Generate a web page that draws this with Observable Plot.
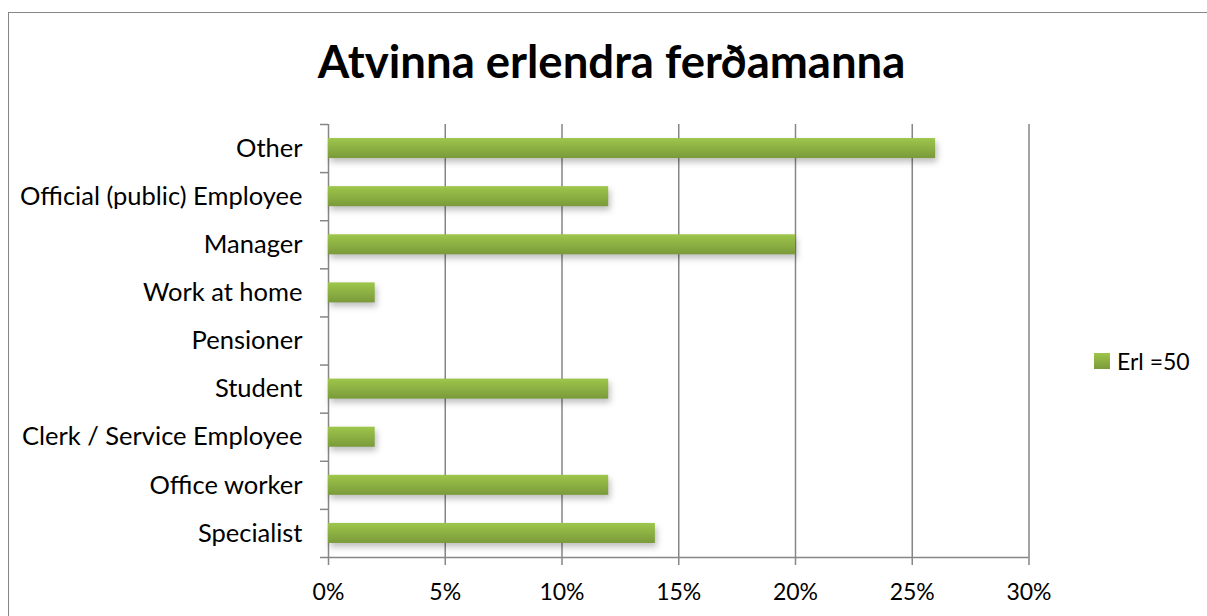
<!DOCTYPE html>
<html>
<head>
<meta charset="utf-8">
<script src="https://cdn.jsdelivr.net/npm/d3@7"></script>
<script src="https://cdn.jsdelivr.net/npm/@observablehq/plot@0.6"></script>
<style>
  html, body { margin: 0; padding: 0; background: #fff; overflow: hidden; }
  #frame { position: absolute; left: 8px; top: 12px; width: 1300px; height: 700px;
           border-left: 1.5px solid #868686; border-top: 1.5px solid #868686; }
  #title { position: absolute; left: 8px; top: 0; width: 1207px; height: 100px; text-align: center;
           font-family: Lato, sans-serif; font-weight: bold; font-size: 45.5px; line-height: 1;
           padding-top: 38px; box-sizing: border-box; color: #000; }
  #chart { position: absolute; left: 0; top: 100px; }
  #legend { position: absolute; left: 1094px; top: 347px; font-family: Lato, sans-serif; font-size: 23px;
            display: flex; align-items: center; color: #000; }
  #legend .sw { width: 16px; height: 16px; background: linear-gradient(#9dc54a, #7b9b3b); margin-right: 7px; }
</style>
</head>
<body>
<div id="frame"></div>
<div id="title">Atvinna erlendra ferðamanna</div>
<div id="chart"></div>
<div id="legend"><div class="sw"></div><span id="legtext"></span></div>
<script>
const categories = ["Other", "Official (public) Employee", "Manager", "Work at home", "Pensioner", "Student", "Clerk / Service Employee", "Office worker", "Specialist"];
const values = [26, 12, 20, 2, 0, 12, 2, 12, 14];
const xTicks = [0, 5, 10, 15, 20, 25, 30];
const seriesName = "Erl =50";

const n = categories.length;
const data = categories.map((c, i) => ({cat: c, value: values[i], pos: n - 1 - i}));
const edges = d3.range(n + 1);
const centers = data.map(d => d.pos + 0.5);
const labelOf = new Map(data.map(d => [d.pos + 0.5, d.cat]));
const inset = 0.292;
const gridColor = "#868686";

const plot = Plot.plot({
  width: 1207,
  height: 516,
  marginTop: 24,
  marginBottom: 59,
  marginLeft: 328,
  marginRight: 178.5,
  style: {fontFamily: "Lato, sans-serif", color: "#000", background: "transparent"},
  x: {domain: [0, 30], axis: null},
  y: {domain: [0, n], axis: null},
  marks: [
    Plot.ruleX(xTicks, {y1: 0, y2: n, stroke: gridColor, strokeWidth: 1.5}),
    Plot.axisX(xTicks, {tickSize: 8, tickPadding: 18, stroke: gridColor, strokeWidth: 1.5,
      tickFormat: d => d + "%", fontSize: 23, fill: "#000", label: null}),
    Plot.ruleY([0], {x1: 0, x2: 30, stroke: gridColor, strokeWidth: 1.5}),
    Plot.axisY(edges, {tickSize: 8, stroke: gridColor, strokeWidth: 1.5, tickFormat: () => "", label: null}),
    Plot.axisY(centers, {tickSize: 0, tickPadding: 26, tickFormat: d => labelOf.get(d), fontSize: 25.5, fill: "#000", label: null}),
    Plot.rectX(data.filter(d => d.value > 0), {
      x1: 0, x2: "value",
      y1: d => d.pos + inset, y2: d => d.pos + 1 - inset,
      fill: "url(#barGrad)", className: "bars"
    })
  ]
});

const svg = d3.select(plot);
const defs = svg.insert("defs", ":first-child");
const g = defs.append("linearGradient").attr("id", "barGrad").attr("x1", 0).attr("y1", 0).attr("x2", 0).attr("y2", 1);
g.append("stop").attr("offset", "0%").attr("stop-color", "#9ec64b");
g.append("stop").attr("offset", "100%").attr("stop-color", "#7a9a3a");
svg.selectAll(".bars").style("filter", "drop-shadow(2px 4px 3px rgba(0,0,0,0.25))");

document.getElementById("chart").appendChild(plot);
document.getElementById("legtext").textContent = seriesName;
</script>
</body>
</html>
